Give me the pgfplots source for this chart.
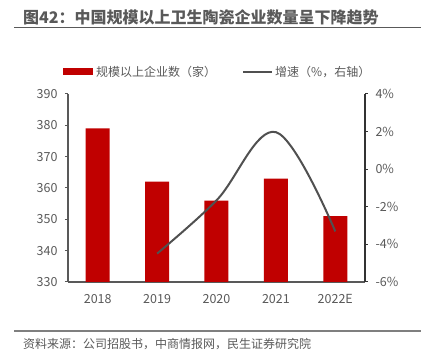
\documentclass[border=0pt]{standalone}
\usepackage{pgfplots}
\pgfplotsset{compat=1.18}
\usepackage{fontspec}
\setmainfont{Noto Sans CJK SC}
\definecolor{barred}{HTML}{C00000}
\definecolor{linegray}{HTML}{505050}
\definecolor{txt}{HTML}{595959}
\definecolor{axgray}{HTML}{7F7F7F}
\begin{document}
\begin{tikzpicture}[x=1pt,y=1pt]
\path[use as bounding box] (0,0) rectangle (424,363);
% title
\node[anchor=base west, font=\fontsize{16}{16}\selectfont\bfseries, text=txt, inner sep=0] at (23,339) {图42：中国规模以上卫生陶瓷企业数量呈下降趋势};
\draw[txt, line width=1.3pt] (14,335.5) -- (421,335.5);
% legend
\fill[barred] (63,288) rectangle (93,294.5);
\node[anchor=west, font=\fontsize{12}{12}\selectfont, text=txt, inner sep=0] at (96,291) {规模以上企业数（家）};
\draw[linegray, line width=1.8pt] (243,291) -- (272,291);
\node[anchor=west, font=\fontsize{12}{12}\selectfont, text=txt, inner sep=0] at (275,291) {增速（\%，右轴）};
% footer
\draw[axgray, line width=1.3pt] (14,32) -- (421,32);
\node[anchor=base west, font=\fontsize{12}{12}\selectfont, text=txt, inner sep=0] at (23,14.5) {资料来源：公司招股书，中商情报网，民生证券研究院};

\begin{axis}[
  at={(68pt,81pt)}, anchor=south west,
  scale only axis, width=297pt, height=188pt,
  xmin=-0.5, xmax=4.5, ymin=330, ymax=390,
  ytick={330,340,...,390},
  xtick={0,1,2,3,4},
  xticklabels={2018,2019,2020,2021,2022E},
  axis y line*=left, axis x line*=bottom,
  axis line style={-, draw=txt, line width=1.2pt},
  ytick align=outside,
  major tick length=3pt,
  y tick style={draw=txt, line width=1pt},
  x tick style={draw=none},
  tick label style={font=\fontsize{12.5}{12.5}\selectfont, text=txt},
  /pgf/number format/assume math mode=true,
  yticklabel style={xshift=-4pt},
  xticklabel style={yshift=-6pt},
  ybar, bar width=24pt,
]
\addplot[fill=barred, draw=none] coordinates {(0,379) (1,362) (2,356) (3,363) (4,351)};
\end{axis}

\begin{axis}[
  at={(68pt,81pt)}, anchor=south west,
  scale only axis, width=297pt, height=188pt,
  xmin=-0.5, xmax=4.5, ymin=-6, ymax=4,
  ytick={-6,-4,...,4},
  yticklabel={\pgfmathprintnumber{\tick}\%},
  axis y line*=right, axis x line=none,
  axis line style={-, draw=black!80, line width=1.2pt},
  ytick align=outside,
  major tick length=3pt,
  y tick style={draw=black!80, line width=1pt},
  tick label style={font=\fontsize{12.5}{12.5}\selectfont, text=txt},
  /pgf/number format/assume math mode=true,
  yticklabel style={xshift=4pt, anchor=west},
]
\addplot[linegray, line width=2pt, smooth, tension=0.6, mark=none] coordinates {(1,-4.49) (2,-1.66) (3,1.97) (4,-3.31)};
\end{axis}
\end{tikzpicture}
\end{document}
